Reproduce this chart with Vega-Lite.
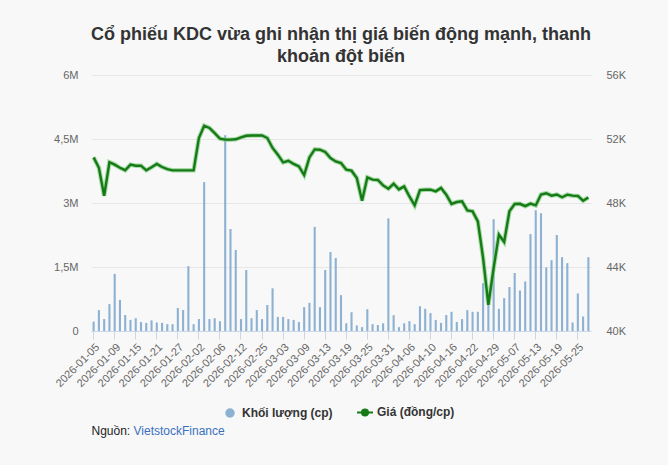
{
  "$schema": "https://vega.github.io/schema/vega-lite/v6.json",
  "autosize": {"type": "none"},
  "width": 500,
  "height": 256,
  "padding": {"left": 91, "top": 75, "right": 77, "bottom": 134},
  "background": "#f8f8f8",
  "config": {
    "view": {"stroke": null},
    "font": "Liberation Sans",
    "axis": {"labelFont": "Liberation Sans", "titleFont": "Liberation Sans"},
    "legend": {"labelFont": "Liberation Sans"}
  },
  "title": {
    "text": ["Cổ phiếu KDC vừa ghi nhận thị giá biến động mạnh, thanh", "khoản đột biến"],
    "fontSize": 18,
    "fontWeight": "bold",
    "color": "#333333",
    "anchor": "middle",
    "lineHeight": 22,
    "offset": 3
  },
  "data": {
    "values": [
      {"date": "2026-01-05", "vol": 220000, "price": 50850},
      {"date": "2026-01-06", "vol": 490000, "price": 50200},
      {"date": "2026-01-07", "vol": 280000, "price": 48450},
      {"date": "2026-01-08", "vol": 630000, "price": 50550},
      {"date": "2026-01-09", "vol": 1340000, "price": 50400},
      {"date": "2026-01-12", "vol": 730000, "price": 50200},
      {"date": "2026-01-13", "vol": 375000, "price": 50050},
      {"date": "2026-01-14", "vol": 260000, "price": 50400},
      {"date": "2026-01-15", "vol": 300000, "price": 50330},
      {"date": "2026-01-16", "vol": 210000, "price": 50330},
      {"date": "2026-01-19", "vol": 190000, "price": 50040},
      {"date": "2026-01-20", "vol": 250000, "price": 50230},
      {"date": "2026-01-21", "vol": 200000, "price": 50440},
      {"date": "2026-01-22", "vol": 190000, "price": 50250},
      {"date": "2026-01-23", "vol": 160000, "price": 50120},
      {"date": "2026-01-26", "vol": 160000, "price": 50040},
      {"date": "2026-01-27", "vol": 540000, "price": 50040},
      {"date": "2026-01-28", "vol": 490000, "price": 50040},
      {"date": "2026-01-29", "vol": 1520000, "price": 50040},
      {"date": "2026-01-30", "vol": 160000, "price": 50040},
      {"date": "2026-02-02", "vol": 280000, "price": 52060},
      {"date": "2026-02-03", "vol": 3490000, "price": 52830},
      {"date": "2026-02-04", "vol": 280000, "price": 52690},
      {"date": "2026-02-05", "vol": 300000, "price": 52370},
      {"date": "2026-02-06", "vol": 230000, "price": 52020},
      {"date": "2026-02-09", "vol": 4590000, "price": 51960},
      {"date": "2026-02-10", "vol": 2390000, "price": 51960},
      {"date": "2026-02-11", "vol": 1900000, "price": 51980},
      {"date": "2026-02-12", "vol": 280000, "price": 52100},
      {"date": "2026-02-13", "vol": 1430000, "price": 52200},
      {"date": "2026-02-23", "vol": 300000, "price": 52220},
      {"date": "2026-02-24", "vol": 490000, "price": 52220},
      {"date": "2026-02-25", "vol": 280000, "price": 52220},
      {"date": "2026-02-26", "vol": 610000, "price": 52060},
      {"date": "2026-02-27", "vol": 1000000, "price": 51440},
      {"date": "2026-03-02", "vol": 330000, "price": 51020},
      {"date": "2026-03-03", "vol": 330000, "price": 50540},
      {"date": "2026-03-04", "vol": 280000, "price": 50640},
      {"date": "2026-03-05", "vol": 260000, "price": 50440},
      {"date": "2026-03-06", "vol": 210000, "price": 50290},
      {"date": "2026-03-09", "vol": 560000, "price": 49750},
      {"date": "2026-03-10", "vol": 660000, "price": 50850},
      {"date": "2026-03-11", "vol": 2440000, "price": 51350},
      {"date": "2026-03-12", "vol": 560000, "price": 51330},
      {"date": "2026-03-13", "vol": 1430000, "price": 51190},
      {"date": "2026-03-16", "vol": 1850000, "price": 50810},
      {"date": "2026-03-17", "vol": 1710000, "price": 50600},
      {"date": "2026-03-18", "vol": 840000, "price": 50500},
      {"date": "2026-03-19", "vol": 180000, "price": 50080},
      {"date": "2026-03-20", "vol": 440000, "price": 50020},
      {"date": "2026-03-23", "vol": 130000, "price": 49560},
      {"date": "2026-03-24", "vol": 90000, "price": 48140},
      {"date": "2026-03-25", "vol": 510000, "price": 49600},
      {"date": "2026-03-26", "vol": 160000, "price": 49460},
      {"date": "2026-03-27", "vol": 140000, "price": 49440},
      {"date": "2026-03-30", "vol": 180000, "price": 49100},
      {"date": "2026-03-31", "vol": 2640000, "price": 48890},
      {"date": "2026-04-01", "vol": 370000, "price": 49200},
      {"date": "2026-04-02", "vol": 90000, "price": 48850},
      {"date": "2026-04-03", "vol": 180000, "price": 49040},
      {"date": "2026-04-06", "vol": 230000, "price": 48410},
      {"date": "2026-04-07", "vol": 160000, "price": 47850},
      {"date": "2026-04-08", "vol": 580000, "price": 48810},
      {"date": "2026-04-09", "vol": 520000, "price": 48830},
      {"date": "2026-04-10", "vol": 420000, "price": 48830},
      {"date": "2026-04-13", "vol": 260000, "price": 48730},
      {"date": "2026-04-14", "vol": 190000, "price": 48940},
      {"date": "2026-04-15", "vol": 375000, "price": 48520},
      {"date": "2026-04-16", "vol": 450000, "price": 47940},
      {"date": "2026-04-17", "vol": 210000, "price": 48060},
      {"date": "2026-04-20", "vol": 280000, "price": 48100},
      {"date": "2026-04-21", "vol": 490000, "price": 47540},
      {"date": "2026-04-22", "vol": 450000, "price": 47480},
      {"date": "2026-04-23", "vol": 450000, "price": 46850},
      {"date": "2026-04-24", "vol": 1120000, "price": 44560},
      {"date": "2026-04-28", "vol": 940000, "price": 41640},
      {"date": "2026-04-29", "vol": 2620000, "price": 43940},
      {"date": "2026-05-04", "vol": 520000, "price": 46020},
      {"date": "2026-05-05", "vol": 770000, "price": 45560},
      {"date": "2026-05-06", "vol": 1030000, "price": 47480},
      {"date": "2026-05-07", "vol": 1360000, "price": 47940},
      {"date": "2026-05-08", "vol": 950000, "price": 47950},
      {"date": "2026-05-11", "vol": 1160000, "price": 47800},
      {"date": "2026-05-12", "vol": 2270000, "price": 47960},
      {"date": "2026-05-13", "vol": 2830000, "price": 47850},
      {"date": "2026-05-14", "vol": 2760000, "price": 48530},
      {"date": "2026-05-15", "vol": 1490000, "price": 48610},
      {"date": "2026-05-18", "vol": 1660000, "price": 48460},
      {"date": "2026-05-19", "vol": 2250000, "price": 48530},
      {"date": "2026-05-20", "vol": 1730000, "price": 48360},
      {"date": "2026-05-21", "vol": 1590000, "price": 48520},
      {"date": "2026-05-22", "vol": 200000, "price": 48460},
      {"date": "2026-05-25", "vol": 880000, "price": 48440},
      {"date": "2026-05-26", "vol": 340000, "price": 48140},
      {"date": "2026-05-27", "vol": 1730000, "price": 48350}
    ]
  },
  "encoding": {
    "x": {
      "field": "date",
      "type": "ordinal",
      "sort": null,
      "scale": {"paddingInner": 0.6, "paddingOuter": 0.3},
      "axis": {
        "title": null,
        "values": ["2026-01-05", "2026-01-09", "2026-01-15", "2026-01-21", "2026-01-27", "2026-02-02", "2026-02-06", "2026-02-12", "2026-02-25", "2026-03-03", "2026-03-09", "2026-03-13", "2026-03-19", "2026-03-25", "2026-03-31", "2026-04-06", "2026-04-10", "2026-04-16", "2026-04-22", "2026-04-29", "2026-05-07", "2026-05-13", "2026-05-19", "2026-05-25"],
        "labelAngle": -45,
        "labelColor": "#666666",
        "labelFontSize": 11,
        "tickColor": "#ccd6eb",
        "tickSize": 8,
        "domainColor": "#ccd6eb",
        "grid": false,
        "labelPadding": 2
      }
    }
  },
  "layer": [
    {
      "mark": {"type": "bar"},
      "encoding": {
        "y": {
          "field": "vol",
          "type": "quantitative",
          "scale": {"domain": [0, 6000000]},
          "axis": {
            "orient": "left",
            "values": [0, 1500000, 3000000, 4500000, 6000000],
            "labelExpr": "datum.value == 0 ? '0' : replace(format(datum.value / 1000000, '~g'), '.', ',') + 'M'",
            "labelColor": "#666666",
            "labelFontSize": 11,
            "labelPadding": 13,
            "ticks": false,
            "domain": false,
            "grid": true,
            "gridColor": "#e6e6e6",
            "title": "Nguồn:",
            "titleAngle": 0,
            "titleX": 0,
            "titleY": 355,
            "titleAlign": "left",
            "titleBaseline": "middle",
            "titleFontSize": 12,
            "titleFontWeight": "normal",
            "titleColor": "#222222"
          }
        },
        "color": {
          "datum": "Khối lượng (cp)",
          "scale": {"domain": ["Khối lượng (cp)", "Giá (đồng/cp)"], "range": ["#8db1d3", "#167a16"]},
          "legend": {
            "title": null,
            "orient": "none",
            "legendX": 133,
            "legendY": 331,
            "direction": "horizontal",
            "labelFontSize": 12,
            "labelFontWeight": "bold",
            "labelColor": "#333333",
            "symbolSize": 256,
            "labelOffset": 6,
            "columnPadding": 20,
            "encode": {
              "symbols": {
                "update": {
                  "shape": {"signal": "datum.value == 'Giá (đồng/cp)' ? 'M-1,0H1M-0.38,0A0.38,0.38,0,1,1,0.38,0A0.38,0.38,0,1,1,-0.38,0Z' : 'circle'"},
                  "size": {"signal": "datum.value == 'Giá (đồng/cp)' ? 256 : 90"},
                  "fill": {"signal": "datum.value == 'Giá (đồng/cp)' ? '#167a16' : '#7cb5ec'"},
                  "stroke": {"signal": "datum.value == 'Giá (đồng/cp)' ? '#167a16' : '#7cb5ec'"},
                  "strokeWidth": {"signal": "datum.value == 'Giá (đồng/cp)' ? 2 : 0"},
                  "opacity": {"value": 1}
                }
              }
            }
          }
        }
      }
    },
    {
      "layer": [
        {
          "mark": {"type": "line", "stroke": "#86cf86", "strokeWidth": 4.5, "opacity": 0.7},
          "encoding": {
            "y": {"field": "price", "type": "quantitative"}
          }
        },
        {
          "mark": {"type": "line", "strokeWidth": 2.4},
          "encoding": {
            "y": {
              "field": "price",
              "type": "quantitative",
              "scale": {"domain": [40000, 56000], "zero": false},
              "axis": {
                "orient": "right",
                "values": [40000, 44000, 48000, 52000, 56000],
                "labelExpr": "format(datum.value / 1000, 'd') + 'K'",
                "labelColor": "#666666",
                "labelFontSize": 11,
                "labelPadding": 15,
                "ticks": false,
                "domain": false,
                "grid": false,
                "title": "VietstockFinance",
                "titleAngle": 0,
                "titleX": -458,
                "titleY": 355,
                "titleAlign": "left",
                "titleBaseline": "middle",
                "titleFontSize": 12,
                "titleFontWeight": "normal",
                "titleColor": "#3a72c0"
              }
            },
            "color": {"datum": "Giá (đồng/cp)"}
          }
        }
      ]
    }
  ],
  "resolve": {"scale": {"y": "independent"}}
}
